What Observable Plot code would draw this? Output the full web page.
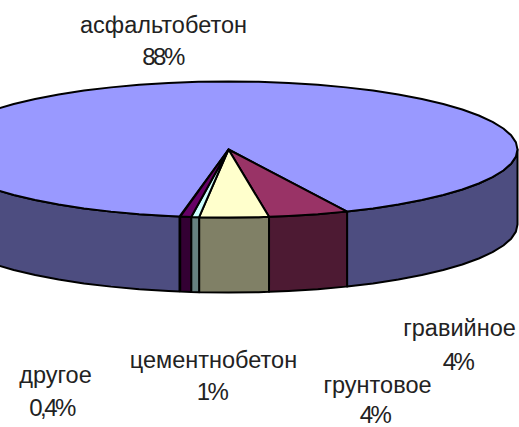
<!DOCTYPE html>
<html>
<head>
<meta charset="utf-8">
<style>html,body{margin:0;padding:0;background:#fff;overflow:hidden}svg{display:block}
.pct text{letter-spacing:-2.5px}</style>
<script src="https://cdn.jsdelivr.net/npm/d3@7"></script>
<script src="https://cdn.jsdelivr.net/npm/@observablehq/plot@0.6"></script>
</head>
<body>
<div id="chart"></div>
<script>
// Data
const categories = ["асфальтобетон", "гравийное", "грунтовое", "цементнобетон", "другое"];
const percentLabels = ["88%", "4%", "4%", "1%", "0,4%"];
// Share of the circle each slice visibly occupies in the picture
const shares = [90.56, 4.49, 3.86, 0.44, 0.61];
const topColors = ["#9999FF", "#993366", "#FFFFCC", "#CCFFFF", "#660066"];
const sideColors = ["#4D4D80", "#4D1A33", "#808066", "#668080", "#330033"];

// Layout
const startAngle = 9.76;   // degrees clockwise from the front of the pie
const depth = 1.103;       // wall height, in units of the vertical radius
const step = 6;            // rim is a coarse polygon
const nameDx = [163, 459, 377, 213, 55];
const pctDx = [162, 457, 374, 211, 51];
const labelDy = [[25, 57], [328, 362], [385, 415], [360, 392], [375, 408]];

const rad = Math.PI / 180;
const rimPoint = (a, drop = 0) => ({x: -Math.sin(a * rad), y: -Math.cos(a * rad) - drop});
function sweep(a0, a1) {
  const out = [a0];
  for (let a = Math.ceil(a0 / step) * step; a < a1; a += step) if (a > a0) out.push(a);
  out.push(a1);
  return out;
}

// Slice extents derived from the shares
let cursor = startAngle;
const slices = shares.map((s, i) => {
  const a0 = cursor, a1 = cursor + s * 3.6;
  cursor = a1;
  return {i, a0, a1};
});

const marks = [];
const polygon = (pts, fill) => marks.push(Plot.line(pts, {
  x: "x", y: "y", fill, stroke: "#000", strokeWidth: 2, curve: "linear-closed"
}));

// Walls: only the front half of the rim is visible
const visible = [[-90, 90], [270, 450]];
for (const {i, a0, a1} of slices) {
  for (const [v0, v1] of visible) {
    const from = Math.max(a0, v0), to = Math.min(a1, v1);
    if (from >= to) continue;
    const angles = sweep(from, to);
    polygon([
      ...angles.map(a => rimPoint(a)),
      ...angles.slice().reverse().map(a => rimPoint(a, depth))
    ], sideColors[i]);
  }
}
// Top faces
for (const {i, a0, a1} of slices) {
  polygon([{x: 0, y: 0}, ...sweep(a0, a1).map(a => rimPoint(a))], topColors[i]);
}
// Labels
categories.forEach((name, i) => {
  [name, percentLabels[i]].forEach((t, k) => {
    marks.push(Plot.text([t], {
      text: d => d,
      frameAnchor: "top-left",
      textAnchor: "middle",
      lineAnchor: "middle",
      dx: k ? pctDx[i] : nameDx[i],
      dy: labelDy[i][k],
      fontFamily: "Liberation Sans",
      fontSize: k ? 24 : 23.5,
      className: k ? "pct" : "name",
      fill: "#222"
    }));
  });
});

const chart = Plot.plot({
  width: 519,
  height: 427,
  margin: 0,
  style: {background: "#fff"},
  x: {type: "linear", domain: [-1, 1], range: [-61, 517], axis: null},
  y: {type: "linear", domain: [-1, 1], range: [217, 81], axis: null},
  marks
});
document.getElementById("chart").append(chart);
</script>
</body>
</html>
